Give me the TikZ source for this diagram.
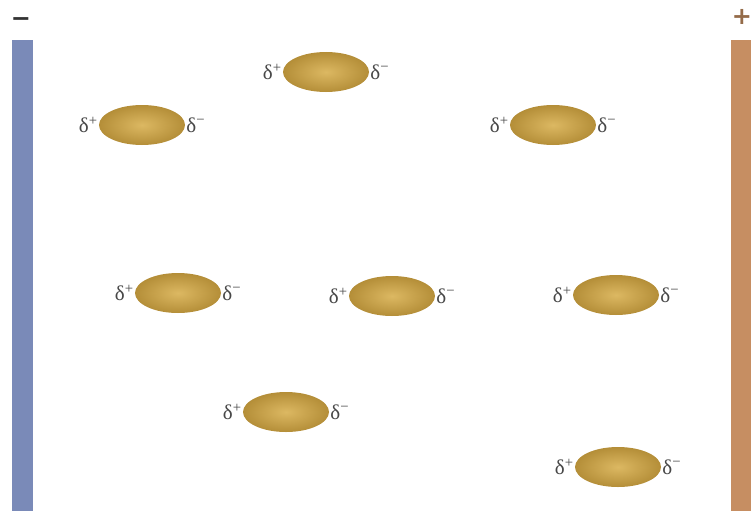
\documentclass[tikz,border=0pt]{standalone}
\usepackage{amsmath,amssymb}
\usepackage{xcolor}
\usepackage{fontspec}
\usepackage{tikz}
\usetikzlibrary{positioning,shapes.geometric}

\newfontfamily\chargefont{Liberation Serif}
\newfontfamily\signfont{DejaVu Sans}

\definecolor{plateneg}{RGB}{122,138,184}
\definecolor{platepos}{RGB}{198,142,98}
\definecolor{moldark}{RGB}{180,142,56}
\definecolor{mollight}{RGB}{220,184,98}

\begin{document}
\begin{tikzpicture}[x=1pt,y=-1pt,
 mol/.style={ellipse,minimum width=86pt,minimum height=40pt,inner sep=0pt,
   inner color=mollight,outer color=moldark},
 charge/.style={font=\chargefont\fontsize{21}{24}\selectfont,text=black!72,inner sep=1pt},
 sign/.style={font=\signfont\bfseries\fontsize{24}{26}\selectfont,inner sep=0pt}
]
\useasboundingbox (0,0) rectangle (751,511);

% the two plates
\fill[plateneg] (12,40) rectangle (33,511);
\fill[platepos] (731,40) rectangle (751,511);
\node[sign,text=black!80] (neg) at (21,22) {−};
\node[sign,text=platepos!75!black] (pos) at (742,17) {+};

% dipoles
\node[mol] (m1) at (326,72) {};
\node[mol] (m2) at (142,125) {};
\node[mol] (m3) at (553,125) {};
\node[mol] (m4) at (178,293) {};
\node[mol] (m5) at (392,296) {};
\node[mol] (m6) at (616,295) {};
\node[mol] (m7) at (286,412) {};
\node[mol] (m8) at (618,467) {};

\foreach \m in {m1,m2,m3,m4,m5,m6,m7,m8}{
 \node[charge,left=0pt of \m] (\m p) {δ\textsuperscript{+}};
 \node[charge,right=0pt of \m] (\m n) {δ\textsuperscript{−}};
}
\end{tikzpicture}
\end{document}
